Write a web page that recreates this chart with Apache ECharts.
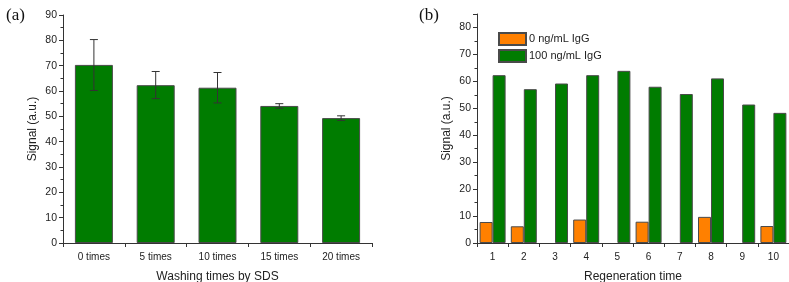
<!DOCTYPE html>
<html>
<head>
<meta charset="utf-8">
<script src="https://cdn.jsdelivr.net/npm/echarts@6/dist/echarts.min.js"></script>
<style>
  html, body { margin: 0; padding: 0; background: #fff; }
  #box { width: 789px; height: 282px; }
</style>
</head>
<body>
<div id="box"></div>
<script>
// panel (a)
var washCategories = ['0 times', '5 times', '10 times', '15 times', '20 times'];
var washSignal = [70.3, 62.3, 61.3, 54.1, 49.3];
var washLow = [60.2, 57.0, 55.3, 53.2, 48.4];
var washHigh = [80.3, 67.7, 67.3, 55.0, 50.2];

// panel (b)
var regenCategories = ['1', '2', '3', '4', '5', '6', '7', '8', '9', '10'];
var blankSignal = [7.8, 6.2, 0, 8.7, 0, 7.9, 0, 9.7, 0, 6.3];
var iggSignal = [62.3, 57.1, 59.2, 62.3, 63.9, 58.0, 55.3, 61.1, 51.4, 48.3];

window.onload = function () {
    var myChart = echarts.init(document.getElementById('box'));
    var font = 'Liberation Sans, Arial, sans-serif';
    var green = '#007c00';
    var orange = '#ff8000';

    var errData = [];
    for (var i = 0; i < washCategories.length; i++) {
        errData.push([i, washLow[i], washHigh[i]]);
    }

    // zero bars should not leave a border line on the axis
    function barData(arr) {
        return arr.map(function (v) {
            return v === 0 ? { value: 0, itemStyle: { borderWidth: 0, opacity: 0 } } : v;
        });
    }

    // error bars with small caps
    function renderError(params, api) {
        var x = api.value(0);
        var lo = api.coord([x, api.value(1)]);
        var hi = api.coord([x, api.value(2)]);
        var cap = 4;
        var st = { stroke: '#333', lineWidth: 1 };
        return {
            type: 'group',
            children: [
                { type: 'line', shape: { x1: lo[0], y1: lo[1], x2: hi[0], y2: hi[1] }, style: st },
                { type: 'line', shape: { x1: hi[0] - cap, y1: hi[1], x2: hi[0] + cap, y2: hi[1] }, style: st },
                { type: 'line', shape: { x1: lo[0] - cap, y1: lo[1], x2: lo[0] + cap, y2: lo[1] }, style: st }
            ]
        };
    }

    function catAxis(grid, data, name) {
        return {
            type: 'category',
            gridIndex: grid,
            data: data,
            name: name,
            nameLocation: 'middle',
            nameGap: 28,
            nameTextStyle: { fontFamily: font, fontSize: 12, color: '#222' },
            axisLine: { lineStyle: { color: '#333', width: 1 } },
            axisTick: { show: true, inside: false, length: 4, alignWithLabel: false, lineStyle: { color: '#333' } },
            axisLabel: { fontFamily: font, fontSize: 10, color: '#222', margin: 9 }
        };
    }

    function valAxis(grid, max) {
        return {
            type: 'value',
            gridIndex: grid,
            min: 0,
            max: max,
            interval: 10,
            name: 'Signal (a.u.)',
            nameLocation: 'middle',
            nameGap: 24,
            nameTextStyle: { fontFamily: font, fontSize: 12, color: '#222' },
            axisLine: { show: true, lineStyle: { color: '#333', width: 1 } },
            axisTick: { show: true, length: 4, lineStyle: { color: '#333' } },
            minorTick: { show: true, splitNumber: 2, length: 2.5, lineStyle: { color: '#333' } },
            splitLine: { show: false },
            axisLabel: {
                fontFamily: font, fontSize: 10.5, color: '#222', margin: 6,
                formatter: function (v) { return v > max - 1 && max % 10 ? '' : v; }
            }
        };
    }

    var option = {
        animation: false,
        backgroundColor: '#fff',
        title: [
            { text: '(a)', left: 1, top: 2, textStyle: { fontFamily: 'Liberation Serif, serif', fontSize: 17, fontWeight: 'normal', color: '#111' } },
            { text: '(b)', left: 414, top: 2, textStyle: { fontFamily: 'Liberation Serif, serif', fontSize: 17, fontWeight: 'normal', color: '#111' } }
        ],
        legend: {
            data: ['0 ng/mL IgG', '100 ng/mL IgG'],
            orient: 'vertical',
            left: 493,
            top: 27,
            icon: 'rect',
            itemWidth: 27,
            itemHeight: 12,
            itemGap: 3,
            textStyle: { fontFamily: font, fontSize: 11, color: '#222', padding: [0, 0, 0, -2] }
        },
        grid: [
            { left: 63, top: 15, width: 309, height: 228, outerBoundsMode: 'none', containLabel: false },
            { left: 477, top: 14, width: 312, height: 229, outerBoundsMode: 'none', containLabel: false }
        ],
        xAxis: [
            catAxis(0, washCategories, 'Washing times by SDS'),
            catAxis(1, regenCategories, 'Regeneration time')
        ],
        yAxis: [
            valAxis(0, 90),
            valAxis(1, 85)
        ],
        series: [
            {
                type: 'bar',
                xAxisIndex: 0,
                yAxisIndex: 0,
                data: washSignal,
                barWidth: 38,
                itemStyle: { color: green, borderColor: '#4a4a4a', borderWidth: 1 }
            },
            {
                type: 'custom',
                xAxisIndex: 0,
                yAxisIndex: 0,
                renderItem: renderError,
                encode: { x: 0, y: [1, 2] },
                data: errData,
                z: 10
            },
            {
                name: '0 ng/mL IgG',
                type: 'bar',
                xAxisIndex: 1,
                yAxisIndex: 1,
                data: barData(blankSignal),
                barWidth: 13,
                barGap: '0%',
                itemStyle: { color: orange, borderColor: '#4a4a4a', borderWidth: 1 }
            },
            {
                name: '100 ng/mL IgG',
                type: 'bar',
                xAxisIndex: 1,
                yAxisIndex: 1,
                data: barData(iggSignal),
                barWidth: 13,
                barGap: '0%',
                itemStyle: { color: green, borderColor: '#4a4a4a', borderWidth: 1 }
            }
        ]
    };
    myChart.setOption(option);
};
</script>
</body>
</html>
